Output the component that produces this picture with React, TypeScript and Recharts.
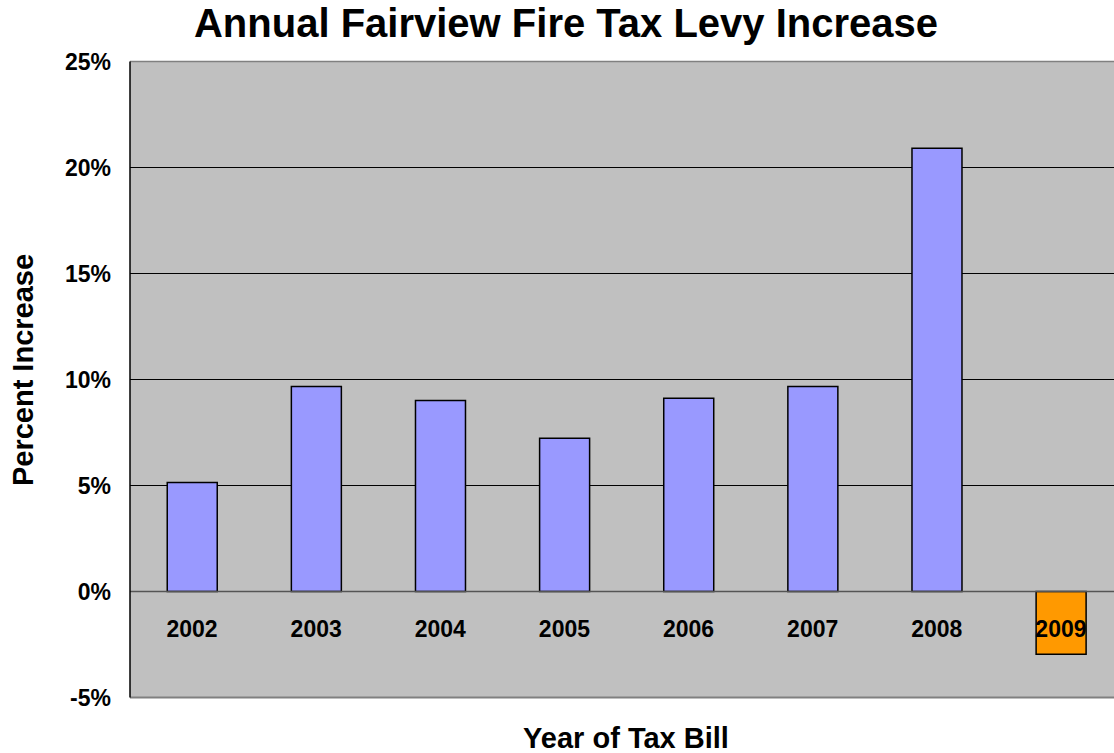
import React from 'react';
import { BarChart, Bar, XAxis, YAxis, CartesianGrid, Cell, ReferenceLine } from 'recharts';

// values (percent)
const years = ['2002', '2003', '2004', '2005', '2006', '2007', '2008', '2009'];
const increases = [5.14, 9.67, 9.01, 7.23, 9.12, 9.67, 20.91, -2.96];
const yTicks = [-5, 0, 5, 10, 15, 20, 25];

const data = years.map((year, i) => ({ year, value: increases[i] }));

const FONT = '"Liberation Sans", Arial, sans-serif';

// year labels sit just under the zero line, inside the plot
const renderYearTick = (props) => {
  const { x, y, payload } = props;
  return (
    <text
      x={x}
      y={y - 61}
      textAnchor="middle"
      fontFamily={FONT}
      fontWeight="bold"
      fontSize={23}
      fill="#000"
    >
      {payload.value}
    </text>
  );
};

export default function App() {
  return (
    <div style={{ position: 'absolute', left: 0, top: 0, width: 1114, height: 753, overflow: 'hidden', background: '#fff' }}>
      <svg style={{ position: 'absolute', left: 0, top: 0 }} width={1114} height={753}>
        <text x={566} y={37} textAnchor="middle" fontFamily={FONT} fontWeight="bold" fontSize={40} fill="#000">
          Annual Fairview Fire Tax Levy Increase
        </text>
        <text x={33} y={370} transform="rotate(-90, 33, 370)" textAnchor="middle" fontFamily={FONT} fontWeight="bold" fontSize={29} fill="#000">
          Percent Increase
        </text>
        <text x={626} y={748} textAnchor="middle" fontFamily={FONT} fontWeight="bold" fontSize={29} fill="#000">
          Year of Tax Bill
        </text>
      </svg>
      <div style={{ position: 'absolute', left: 0, top: 0 }}>
        <BarChart
          width={1130}
          height={753}
          data={data}
          margin={{ top: 61.5, right: 7, left: 0, bottom: 54.5 }}
          barCategoryGap="30%"
        >
          <CartesianGrid vertical={false} stroke="#000" strokeWidth={1} fill="#C0C0C0" fillOpacity={1} />
          <XAxis
            dataKey="year"
            height={1}
            axisLine={{ stroke: '#808080', strokeWidth: 2 }}
            tickLine={false}
            tickSize={0}
            tickMargin={0}
            interval={0}
            tick={renderYearTick}
          />
          <YAxis
            width={130}
            domain={[-5, 25]}
            ticks={yTicks}
            interval={0}
            tickFormatter={(v) => `${v}%`}
            axisLine={{ stroke: '#000', strokeWidth: 1.5 }}
            tickLine={false}
            tickSize={0}
            tickMargin={19}
            tick={{ fontFamily: FONT, fontWeight: 'bold', fontSize: 23, fill: '#000' }}
          />
          <ReferenceLine y={0} stroke="#555" strokeWidth={1.5} />
          <ReferenceLine y={25} stroke="#808080" strokeWidth={1.5} />
          <Bar dataKey="value" stroke="#000" strokeWidth={1.5} isAnimationActive={false}>
            {data.map((d, i) => (
              <Cell key={d.year} fill={i === data.length - 1 ? '#FF9900' : '#9999FF'} />
            ))}
          </Bar>
        </BarChart>
      </div>
    </div>
  );
}
